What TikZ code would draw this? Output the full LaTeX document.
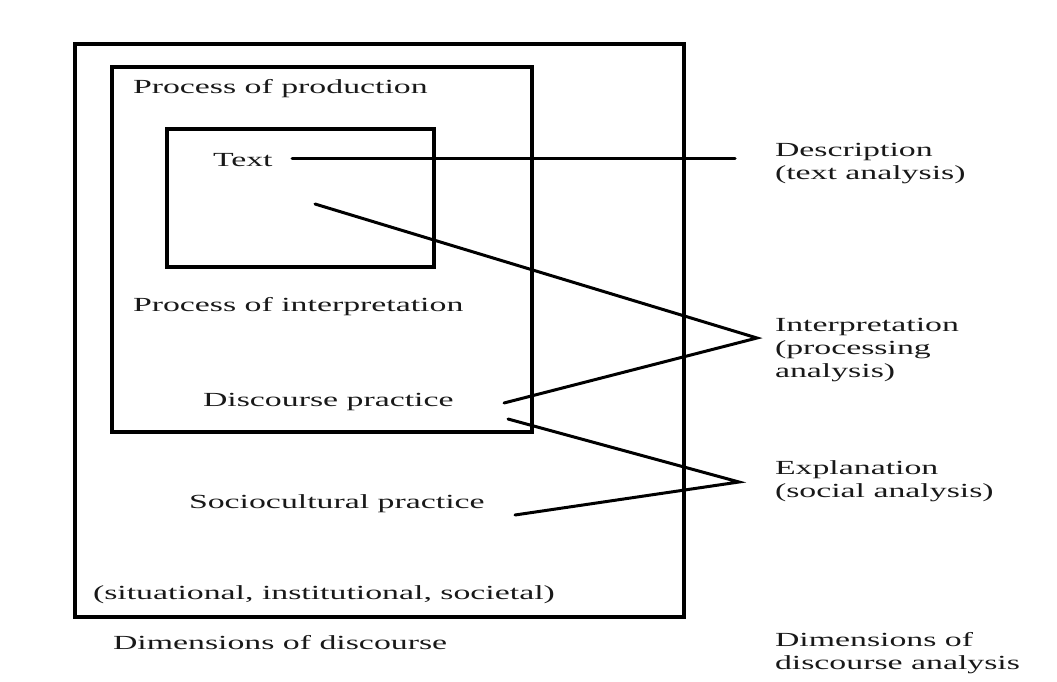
\documentclass[tikz,border=0pt]{standalone}
\usepackage{fontspec}
\usepackage{graphicx}
\setmainfont{Liberation Serif}
\newcommand{\sx}[1]{\scalebox{1.69}[1]{#1}}
\tikzset{
  boxframe/.style={draw=black, line width=3.3pt, inner sep=0pt, outer sep=0pt, rectangle},
  lbl/.style={inner sep=0pt, outer sep=0pt, anchor=west, text=black!90, font=\fontsize{20}{23}\selectfont},
  conn/.style={draw=black, line width=3pt, line cap=round, line join=miter}
}
\begin{document}
\begin{tikzpicture}[x=1pt,y=-1pt]
\useasboundingbox (0,0) rectangle (1057,682);
\fill[white] (0,0) rectangle (1057,682);
% boxes
\node[boxframe, minimum width=609pt, minimum height=573pt] (outer) at (379.5,330.5) {};
\node[boxframe, minimum width=420pt, minimum height=365pt] (middle) at (322,249.5) {};
\node[boxframe, minimum width=267pt, minimum height=138pt] (inner) at (300.5,198) {};
% left texts
\node[lbl] (prod) at (133,89) {\sx{Process of production}};
\node[lbl] (text) at (213,160) {\sx{Text}};
\node[lbl] (interp) at (133,307) {\sx{Process of interpretation}};
\node[lbl] (disc) at (203,402) {\sx{Discourse practice}};
\node[lbl] (socio) at (189,504) {\sx{Sociocultural practice}};
\node[lbl] (sit) at (93,595) {\sx{(situational, institutional, societal)}};
\node[lbl] (dimd) at (113,643) {\sx{Dimensions of discourse}};
% right texts
\node[lbl] (descr) at (775,163.5) {\sx{\begin{tabular}{@{}l@{}}Description\\(text analysis)\end{tabular}}};
\node[lbl] (interpr) at (775,350) {\sx{\begin{tabular}{@{}l@{}}Interpretation\\(processing\\analysis)\end{tabular}}};
\node[lbl] (expl) at (775,481.5) {\sx{\begin{tabular}{@{}l@{}}Explanation\\(social analysis)\end{tabular}}};
\node[lbl] (dimda) at (775,653.5) {\sx{\begin{tabular}{@{}l@{}}Dimensions of\\discourse analysis\end{tabular}}};
% connector end points
\coordinate (tS) at (292,158);
\coordinate (tE) at (735,158);
\coordinate (iS) at (315,204);
\coordinate (iA) at (757,338);
\coordinate (iE) at (504,403);
\coordinate (eS) at (508,419);
\coordinate (eA) at (739,482);
\coordinate (eE) at (515,515);
\draw[conn] (tS) -- (tE);
\draw[conn] (iS) -- (iA) -- (iE);
\draw[conn] (eS) -- (eA) -- (eE);
\end{tikzpicture}
\end{document}
